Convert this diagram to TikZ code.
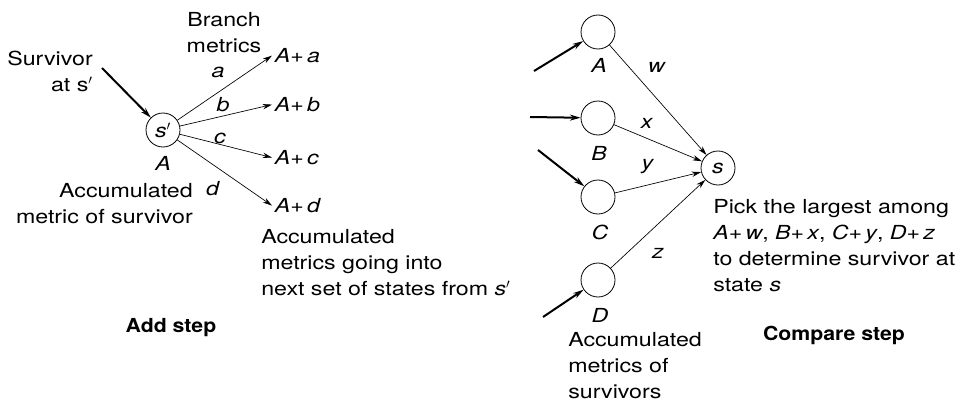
\documentclass[tikz,border=0pt]{standalone}
\usepackage{fontspec}
\setmainfont{TeX Gyre Heros}[FakeStretch=1.2, BoldFeatures={FakeStretch=1.1}]
\usetikzlibrary{arrows.meta}
\tikzset{state/.style={draw, circle, minimum size=25.5pt, inner sep=0pt, line width=0.6pt},
  branch/.style={-{Stealth[length=7pt,width=4pt]}, line width=0.5pt},
  survivor/.style={-{Stealth[length=8pt,width=4.5pt]}, line width=1.5pt},
  lbl/.style={inner sep=0pt}}
\newcommand{\msum}[2]{\textit{#1}+\,\textit{#2}}

\begin{document}
\begin{tikzpicture}[x=0.75pt,y=-0.75pt,font=\fontsize{14.5}{19.5}\selectfont]
\useasboundingbox (0,0) rectangle (959,403);
% add step
\node[state] (sp) at (163,130) {\textit{s}$'$};
\node[lbl] (spA) at (163,163) {\textit{A}};
\node[lbl, align=right, anchor=north east] (survtxt) at (93,51) {Survivor\\at s$'$};
\coordinate (sin) at (102,68);
\draw[survivor] (sin) -- (sp);
\node[lbl, align=center, anchor=north] (brtxt) at (224,12) {Branch\\metrics};
\node[inner sep=2pt, anchor=mid west] (Aa) at (272,59) {\msum{A}{a}};
\node[inner sep=2pt, anchor=mid west] (Ab) at (272,108) {\msum{A}{b}};
\node[inner sep=2pt, anchor=mid west] (Ac) at (272,161) {\msum{A}{c}};
\node[inner sep=2pt, anchor=mid west] (Ad) at (272,209) {\msum{A}{d}};
\draw[branch] (sp) -- (Aa.west);
\draw[branch] (sp) -- (Ab.west);
\draw[branch] (sp) -- (Ac.west);
\draw[branch] (sp) -- (Ad.west);
\node[lbl] (la) at (218,72) {\textit{a}};
\node[lbl] (lb) at (223,105) {\textit{b}};
\node[lbl] (lc) at (220,138) {\textit{c}};
\node[lbl] (ld) at (213,189) {\textit{d}};
\node[lbl, align=right, anchor=north east] (acctxt) at (193,183) {Accumulated\\metric of survivor};
\node[lbl, align=left, anchor=north west] (nexttxt) at (261,229) {Accumulated\\metrics going into\\next set of states from \textit{s}$'$};
\node[lbl, font=\fontsize{14.5}{19.5}\selectfont\bfseries] (addtxt) at (171,328) {Add step};
% compare step
\node[state] (nA) at (598,32) {};
\node[state] (nB) at (598,118) {};
\node[state] (nC) at (598,197) {};
\node[state] (nD) at (598,280) {};
\node[state] (ns) at (718,168) {\textit{s}};
\node[lbl] (lA) at (599,65) {\textit{A}};
\node[lbl] (lB) at (599,153) {\textit{B}};
\node[lbl] (lC) at (600,232) {\textit{C}};
\node[lbl] (lD) at (600,315) {\textit{D}};
\coordinate (inA) at (534,71);
\coordinate (inB) at (530,117);
\coordinate (inC) at (538,150);
\coordinate (inD) at (543,317);
\draw[survivor] (inA) -- (nA);
\draw[survivor] (inB) -- (nB);
\draw[survivor] (inC) -- (nC);
\draw[survivor] (inD) -- (nD);
\draw[branch] (nA) -- (ns);
\draw[branch] (nB) -- (ns);
\draw[branch] (nC) -- (ns);
\draw[branch] (nD) -- (ns);
\node[lbl] (lw) at (657,67) {\textit{w}};
\node[lbl] (lx) at (647,123) {\textit{x}};
\node[lbl] (ly) at (648,167) {\textit{y}};
\node[lbl] (lz) at (658,253) {\textit{z}};
\node[lbl, align=left, anchor=north west] (survstxt) at (568,332) {Accumulated\\metrics of\\survivors};
\node[lbl, align=left, anchor=north west] (picktxt) at (713,199) {Pick the largest among\\\msum{A}{w}, \msum{B}{x}, \msum{C}{y}, \msum{D}{z}\\to determine survivor at\\state \textit{s}};
\node[lbl, font=\fontsize{14.5}{19.5}\selectfont\bfseries] (cmptxt) at (834,335) {Compare step};
\end{tikzpicture}
\end{document}
